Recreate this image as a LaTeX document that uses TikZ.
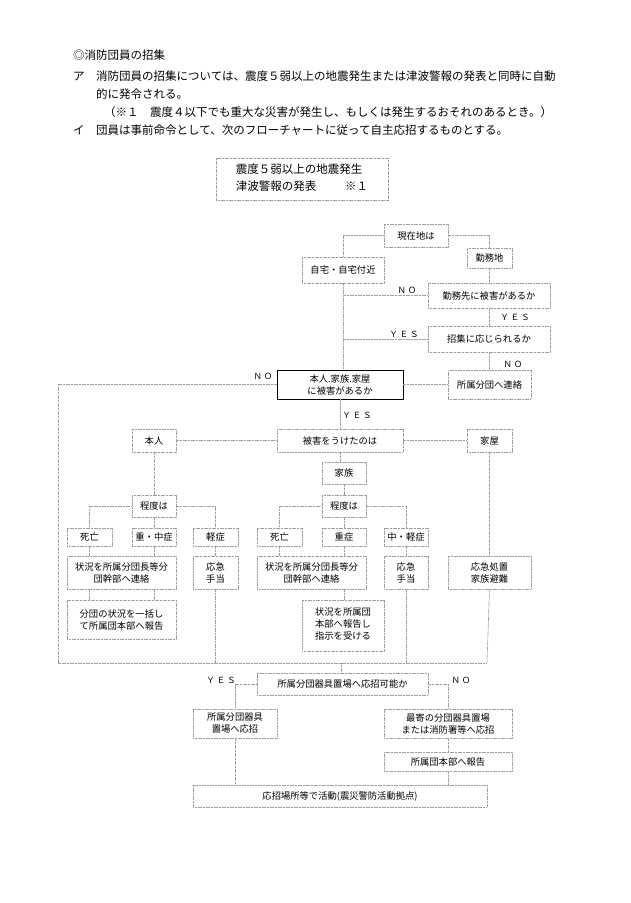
\documentclass[tikz,border=0pt]{standalone}
\usepackage{fontspec}
\setmainfont{Noto Sans CJK JP}
\begin{document}
\begin{tikzpicture}[x=1pt,y=-1pt,
  box/.style={draw=gray!75,line width=0.6pt,dash pattern=on 1.2pt off 0.4pt,inner sep=0pt,font=\fontsize{9.3}{12}\selectfont,align=center},
  mbox/.style={draw=black,line width=0.9pt,inner sep=0pt,font=\fontsize{9.3}{12}\selectfont,align=center},
  ln/.style={draw=gray!75,line width=0.6pt,dash pattern=on 1.2pt off 0.4pt},
  lab/.style={font=\fontsize{8.5}{10}\selectfont,inner sep=0pt},
  txt/.style={anchor=west,inner sep=0pt,font=\fontsize{11.5}{14}\selectfont}]
\useasboundingbox[fill=white] (0,0) rectangle (630,903);
\newcommand\bx[7][box]{\node[#1,minimum width={(#5-#3)*1pt},minimum height={(#6-#4)*1pt}] (#2) at ({(#3+#5)/2},{(#4+#6)/2}) {#7};}
% top text
\node[txt] (t1) at (73,55) {◎消防団員の招集};
\node[txt] (t2) at (73,76) {ア　消防団員の招集については、震度５弱以上の地震発生または津波警報の発表と同時に自動};
\node[txt] (t3) at (96,94) {的に発令される。};
\node[txt] (t4) at (104,112) {（※１　震度４以下でも重大な災害が発生し、もしくは発生するおそれのあるとき。）};
\node[txt] (t5) at (73,130) {イ　団員は事前命令として、次のフローチャートに従って自主応招するものとする。};
% boxes
\bx{title}{216}{158}{388}{200}{\fontsize{11.5}{17}\selectfont\begin{tabular}{@{}l@{}}震度５弱以上の地震発生\\津波警報の発表\hspace{2.5em}※１\end{tabular}}
\bx{genzai}{384}{224}{448}{247}{現在地は}
\bx{kinmu}{467}{248}{512}{268}{勤務地}
\bx{jitaku}{302}{257}{384}{283}{自宅・自宅付近}
\bx{higai1}{428}{283}{550}{308}{勤務先に被害があるか}
\bx{oujiru}{428}{326}{550}{352}{招集に応じられるか}
\bx[mbox]{honnin}{277}{370}{403}{399}{本人.家族.家屋\\に被害があるか}
\bx{renraku}{448}{370}{531}{399}{所属分団へ連絡}
\bx{honninp}{132}{429}{176}{452}{本人}
\bx{uketa}{277}{429}{403}{452}{被害をうけたのは}
\bx{kaoku}{467}{429}{512}{452}{家屋}
\bx{kazoku}{322}{462}{366}{484}{家族}
\bx{teidoL}{132}{495}{176}{517}{程度は}
\bx{teidoM}{322}{495}{366}{517}{程度は}
\bx{shiboL}{67}{528}{112}{546}{死亡}
\bx{juchuL}{132}{528}{176}{546}{重・中症}
\bx{keishoL}{193}{528}{238}{546}{軽症}
\bx{shiboM}{257}{528}{302}{546}{死亡}
\bx{juushoM}{322}{528}{366}{546}{重症}
\bx{chukeiM}{384}{528}{428}{546}{中・軽症}
\bx{jokyoL}{67}{556}{176}{589}{状況を所属分団長等分\\団幹部へ連絡}
\bx{okyuL}{193}{556}{238}{589}{応急\\手当}
\bx{jokyoM}{257}{556}{366}{589}{状況を所属分団長等分\\団幹部へ連絡}
\bx{okyuM}{384}{556}{428}{589}{応急\\手当}
\bx{shochi}{448}{556}{531}{589}{応急処置\\家族避難}
\bx{bundan}{67}{600}{176}{639}{分団の状況を一括し\\て所属団本部へ報告}
\bx{houkoku}{302}{600}{384}{651}{\begin{tabular}{@{}l@{}}状況を所属団\\本部へ報告し\\指示を受ける\end{tabular}}
\bx{kanou}{257}{673}{428}{695}{所属分団器具置場へ応招可能か}
\bx{shozoku}{193}{709}{277}{738}{所属分団器具\\置場へ応招}
\bx{moyori}{384}{709}{512}{738}{最寄の分団器具置場\\または消防署等へ応招}
\bx{hombu}{384}{752}{512}{771}{所属団本部へ報告}
\bx{katsudo}{193}{785}{487}{807}{応招場所等で活動(震災警防活動拠点)}
% coordinates
\coordinate (BL) at (58,663);
\coordinate (BR) at (487,663);
\coordinate (BM) at (341,663);
% connectors
\draw[ln] (genzai.west) -| (jitaku.north);
\draw[ln] (genzai.east) -| (kinmu.north);
\draw[ln] (kinmu.south) -- (kinmu.south |- higai1.north);
\draw[ln] (jitaku.south) -- (jitaku.south |- honnin.north);
\draw[ln] (higai1.west) -- (higai1.west -| jitaku.south);
\draw[ln] (higai1.south) -- (higai1.south |- oujiru.north);
\draw[ln] (oujiru.west) -- (oujiru.west -| jitaku.south);
\draw[ln] (oujiru.south) -- (oujiru.south |- renraku.north);
\draw[ln] (renraku.west) -- (honnin.east |- renraku.west);
\draw[ln] (honnin.west) -| (BL) -- (BR);
\draw[ln] (honnin.south) -- (uketa.north);
\draw[ln] (uketa.west) -- (honninp.east);
\draw[ln] (uketa.east) -- (kaoku.west);
\draw[ln] (uketa.south) -- (uketa.south |- kazoku.north);
\draw[ln] (honninp.south) -- (teidoL.north);
\draw[ln] (kazoku.south) -- (teidoM.north);
\draw[ln] (teidoL.west) -| (shiboL.north);
\draw[ln] (teidoL.east) -| (keishoL.north);
\draw[ln] (teidoL.south) -- (juchuL.north);
\draw[ln] (shiboL.south) -- (shiboL.south |- jokyoL.north);
\draw[ln] (juchuL.south) -- (juchuL.south |- jokyoL.north);
\draw[ln] (jokyoL.south -| shiboL) -- (bundan.north -| shiboL);
\draw[ln] (jokyoL.south -| juchuL) -- (bundan.north -| juchuL);
\draw[ln] (keishoL.south) -- (okyuL.north);
\draw[ln] (okyuL.south) -- (okyuL.south |- BL);
\draw[ln] (teidoM.west) -| (shiboM.north);
\draw[ln] (teidoM.east) -| (chukeiM.north);
\draw[ln] (teidoM.south) -- (juushoM.north);
\draw[ln] (shiboM.south) -- (shiboM.south |- jokyoM.north);
\draw[ln] (juushoM.south) -- (juushoM.south |- jokyoM.north);
\draw[ln] (jokyoM.south -| juushoM) -- (houkoku.north -| juushoM);
\draw[ln] (chukeiM.south) -- (okyuM.north);
\draw[ln] (okyuM.south) -- (okyuM.south |- BL);
\draw[ln] (kaoku.south) -- (kaoku.south |- shochi.north);
\draw[ln] (shochi.south -| kaoku) -- (BR);
\draw[ln] (BM) -- (BM |- kanou.north);
\draw[ln] (kanou.west) -| (shozoku.north);
\draw[ln] (kanou.east) -| (moyori.north);
\draw[ln] (shozoku.south) -- (shozoku.south |- katsudo.north);
\draw[ln] (moyori.south) -- (moyori.south |- hombu.north);
\draw[ln] (hombu.south) -- (hombu.south |- katsudo.north);
% labels
\node[lab] (l1) at (407,290) {Ｎ Ｏ};
\node[lab] (l2) at (515,317) {Ｙ Ｅ Ｓ};
\node[lab] (l3) at (404,334) {Ｙ Ｅ Ｓ};
\node[lab] (l4) at (513,364) {Ｎ Ｏ};
\node[lab] (l5) at (263,376) {Ｎ Ｏ};
\node[lab] (l6) at (357,415) {Ｙ Ｅ Ｓ};
\node[lab] (l7) at (221,680) {Ｙ Ｅ Ｓ};
\node[lab] (l8) at (461,680) {Ｎ Ｏ};
\end{tikzpicture}
\end{document}
